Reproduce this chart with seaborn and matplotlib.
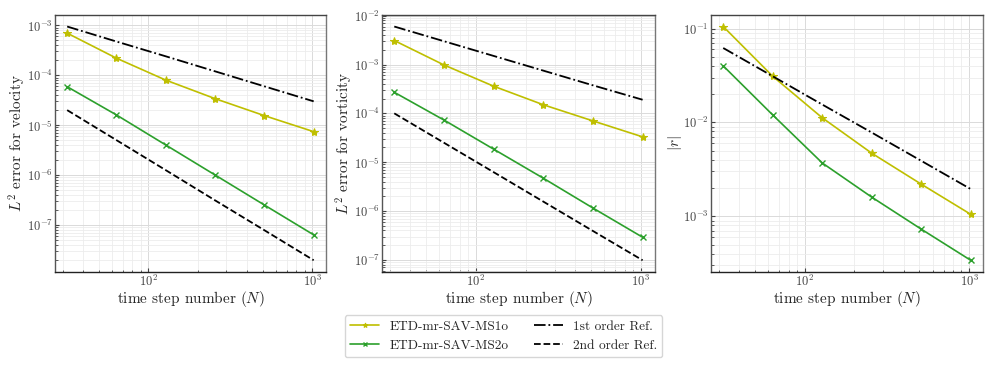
import numpy as np
import pandas as pd
import seaborn as sns
import matplotlib.pyplot as plt

# time step numbers
N = [32, 64, 128, 256, 512, 1024]

# L2 error for velocity
vel_ms1 = [7.0e-4, 2.2e-4, 8.0e-5, 3.4e-5, 1.55e-5, 7.4e-6]
vel_ms2 = [5.9e-5, 1.6e-5, 4.0e-6, 1.0e-6, 2.5e-7, 6.3e-8]
vel_ref1 = [9.5e-4, 4.75e-4, 2.4e-4, 1.2e-4, 6.0e-5, 3.0e-5]
vel_ref2 = [2.0e-5, 5.0e-6, 1.25e-6, 3.1e-7, 7.8e-8, 1.95e-8]

# L2 error for vorticity
vor_ms1 = [3.1e-3, 9.8e-4, 3.6e-4, 1.5e-4, 7.0e-5, 3.3e-5]
vor_ms2 = [2.7e-4, 7.3e-5, 1.85e-5, 4.7e-6, 1.15e-6, 2.9e-7]
vor_ref1 = [6.0e-3, 3.0e-3, 1.5e-3, 7.5e-4, 3.75e-4, 1.9e-4]
vor_ref2 = [1.0e-4, 2.5e-5, 6.25e-6, 1.56e-6, 3.9e-7, 9.8e-8]

# |r|
r_ms1 = [0.105, 0.031, 0.0112, 0.0047, 0.0022, 0.00105]
r_ms2 = [0.040, 0.012, 0.0037, 0.0016, 0.00073, 0.00034]
r_ref1 = [0.062, 0.031, 0.0155, 0.0078, 0.0039, 0.00195]

sns.set_style("ticks")
plt.rcParams['font.family'] = 'serif'
plt.rcParams['font.serif'] = ['cmr10', 'DejaVu Serif']
plt.rcParams['mathtext.fontset'] = 'cm'
plt.rcParams['axes.formatter.use_mathtext'] = True
plt.rcParams['axes.unicode_minus'] = False

c1 = '#bfbf00'
c2 = '#2ca02c'

fig = plt.figure(figsize=(9.97, 3.71), dpi=100)
axes = [fig.add_axes([0.055, 0.267, 0.272, 0.693]),
        fig.add_axes([0.383, 0.267, 0.274, 0.693]),
        fig.add_axes([0.713, 0.267, 0.273, 0.693])]

panels = [
    (vel_ms1, vel_ms2, vel_ref1, vel_ref2, r'$L^2$ error for velocity'),
    (vor_ms1, vor_ms2, vor_ref1, vor_ref2, r'$L^2$ error for vorticity'),
    (r_ms1, r_ms2, r_ref1, None, r'$|r|$'),
]

for ax, (ms1, ms2, ref1, ref2, ylab) in zip(axes, panels):
    sns.lineplot(x=N, y=ms1, ax=ax, color=c1, marker='*', markersize=6,
                 markeredgecolor=c1, lw=1.2, label='ETD-mr-SAV-MS1o')
    sns.lineplot(x=N, y=ms2, ax=ax, color=c2, marker='x', markersize=5,
                 markeredgecolor=c2, mew=1.0, lw=1.2, label='ETD-mr-SAV-MS2o')
    sns.lineplot(x=N, y=ref1, ax=ax, color='black', ls='-.', lw=1.3,
                 label='1st order Ref.')
    if ref2 is not None:
        sns.lineplot(x=N, y=ref2, ax=ax, color='black', ls='--', lw=1.3,
                     label='2nd order Ref.')
    ax.set_xscale('log')
    ax.set_yscale('log')
    ax.grid(True, which='major', color='#dadada', lw=0.7)
    ax.grid(True, which='minor', color='#ececec', lw=0.6)
    ax.tick_params(which='both', direction='in', labelsize=9,
                   colors='#444444', pad=1.5)
    ax.tick_params(which='major', length=3)
    ax.tick_params(which='minor', length=1.8)
    ax.spines['left'].set_color('#555555')
    ax.spines['bottom'].set_color('#222222')
    ax.spines['top'].set_color('#444444')
    ax.spines['right'].set_color('#777777')
    for s in ax.spines.values():
        s.set_linewidth(1.0)
    ax.set_xlabel(r'time step number $(N)$', fontsize=11, labelpad=0)
    ax.set_ylabel(ylab, fontsize=11, labelpad=-1)
    handles, labels = ax.get_legend_handles_labels()
    ax.get_legend().remove()
    if ref2 is not None:
        leg_h, leg_l = handles, labels

fig.legend(leg_h, leg_l, loc='lower center', ncol=2, fontsize=9.6,
           bbox_to_anchor=(0.505, 0.019), frameon=True, fancybox=True,
           edgecolor='#cccccc', columnspacing=1.9, handlelength=2.2,
           handletextpad=0.75, markerscale=0.6)

fig.savefig('out.png', dpi=100)
